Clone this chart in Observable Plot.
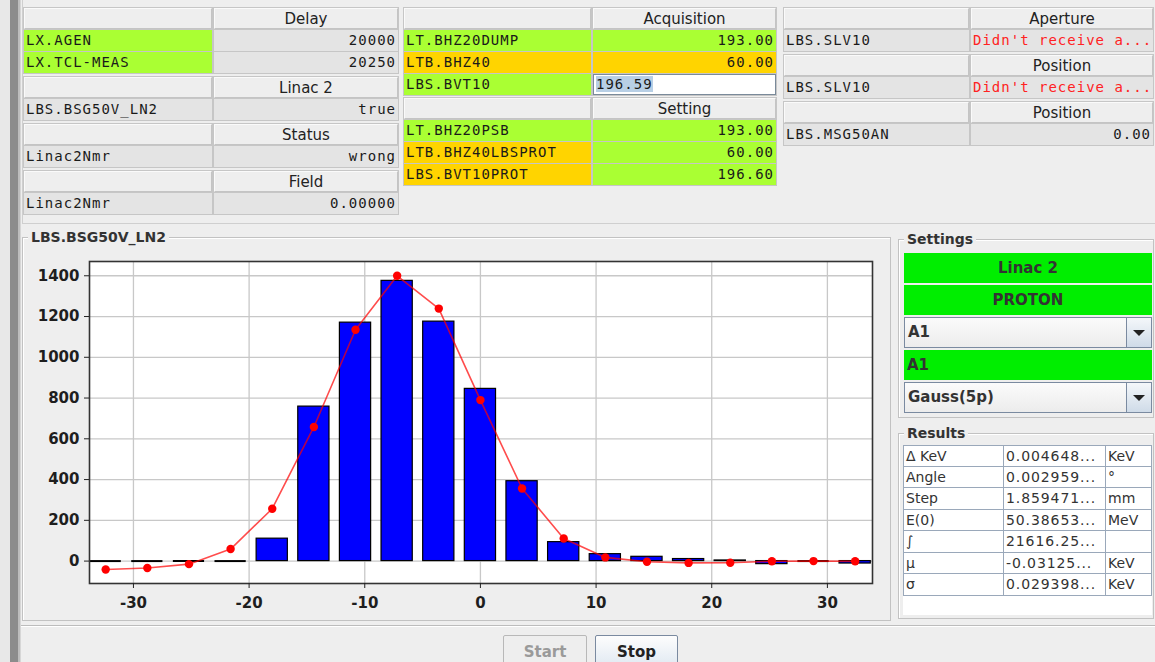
<!DOCTYPE html>
<html>
<head>
<meta charset="utf-8">
<script src="https://cdn.jsdelivr.net/npm/d3@7"></script>
<script src="https://cdn.jsdelivr.net/npm/@observablehq/plot@0.6"></script>
<style>
  html, body { margin: 0; padding: 0; background: #eeeeee; }
  #root { position: relative; width: 1155px; height: 662px; overflow: hidden; background: #eeeeee; font-family: "DejaVu Sans", sans-serif; }
  .abs { position: absolute; box-sizing: border-box; }
  .cell { position: absolute; box-sizing: border-box; height: 21px; line-height: 21px; font-family: "DejaVu Sans Mono", monospace; font-size: 14px; letter-spacing: 1px; color: #1a1a1a; white-space: nowrap; overflow: hidden; padding: 0 2px; }
  .hdr { position: absolute; box-sizing: border-box; height: 21px; line-height: 21px; font-size: 15px; color: #222; text-align: center; background: #eeeeee; border: 1px solid #c4c4c4; border-top-color: #fafafa; border-left-color: #fafafa; }
  .green { background: #aaff33; }
  .orange { background: #ffd400; }
  .gray { background: #e4e4e4; }
  .red { background: #e4e4e4; color: #ff2222; }
  .val { text-align: right; }
  .input { background: #ffffff; border: 1px solid #7a8a9a; text-align: left; line-height: 19px; }
  .input span { background: #b8cfe5; }
  .tbl { position: absolute; background: #c6c6c6; }
  .titled { position: absolute; box-sizing: border-box; border: 1px solid #c2c2c2; box-shadow: 1px 1px 0 #ffffff inset; }
  .ttl { position: absolute; background: #eeeeee; font-weight: bold; font-size: 14px; color: #333; padding: 0 3px; line-height: 16px; }
  .gbox { position: absolute; box-sizing: border-box; background: #00ee00; font-weight: bold; font-size: 15px; color: #333; line-height: 30px; }
  .combo { position: absolute; box-sizing: border-box; border: 1px solid #7a8aa0; background: linear-gradient(#fbfbfb, #ececec); font-weight: bold; font-size: 15px; color: #333; line-height: 29px; padding-left: 3px; }
  .combo .btn { position: absolute; right: 0; top: 0; width: 25px; height: 100%; box-sizing: border-box; border-left: 1px solid #7a8aa0; background: linear-gradient(#f4f7fa, #cfdbe8); }
  .combo .btn::after { content: ""; position: absolute; left: 6px; top: 12px; border-left: 6px solid transparent; border-right: 6px solid transparent; border-top: 6px solid #222; }
  .rtab { position: absolute; background: #ffffff; }
  .rc { position: absolute; box-sizing: border-box; height: 21.5px; line-height: 21px; font-size: 14px; color: #333; border-right: 1px solid #9aa8ba; border-bottom: 1px solid #9aa8ba; padding-left: 2px; white-space: nowrap; overflow: hidden; }
  .rc.v { letter-spacing: 0.9px; }
  .button { position: absolute; box-sizing: border-box; font-weight: bold; font-size: 15px; text-align: center; line-height: 32px; height: 40px; border-radius: 2px; }
</style>
</head>
<body>
<div id="root"></div>
<script>
// ---------------- chart data ----------------
const binCenters = [-32.4, -28.8, -25.2, -21.6, -18.0, -14.4, -10.8, -7.2, -3.6, 0, 3.6, 7.2, 10.8, 14.4, 18.0, 21.6, 25.2, 28.8, 32.4];
const counts     = [0, 0, 0, 0, 110, 758, 1170, 1375, 1175, 845, 392, 93, 34, 21, 10, 3, -15, 0, -12];
const fitValues  = [-41, -34, -15, 59, 257, 658, 1135, 1400, 1239, 790, 356, 111, 18, -3, -9, -8, -1, 0, -1];
const xTicks = [-30, -20, -10, 0, 10, 20, 30];
const yTicks = [0, 200, 400, 600, 800, 1000, 1200, 1400];
const chartTitle = "LBS.BSG50V_LN2";

// ---------------- panel texts ----------------
const leftGroups = [
  { header: "Delay", rows: [["LX.AGEN", "green", "20000", "gray"], ["LX.TCL-MEAS", "green", "20250", "gray"]] },
  { header: "Linac 2", rows: [["LBS.BSG50V_LN2", "gray", "true", "gray"]] },
  { header: "Status", rows: [["Linac2Nmr", "gray", "wrong", "gray"]] },
  { header: "Field", rows: [["Linac2Nmr", "gray", "0.00000", "gray"]] }
];
const middleGroups = [
  { header: "Acquisition", rows: [["LT.BHZ20DUMP", "green", "193.00", "green"], ["LTB.BHZ40", "orange", "60.00", "orange"], ["LBS.BVT10", "green", "196.59", "input"]] },
  { header: "Setting", rows: [["LT.BHZ20PSB", "green", "193.00", "green"], ["LTB.BHZ40LBSPROT", "orange", "60.00", "green"], ["LBS.BVT10PROT", "orange", "196.60", "green"]] }
];
const rightGroups = [
  { header: "Aperture", rows: [["LBS.SLV10", "gray", "Didn't receive a...", "red"]] },
  { header: "Position", rows: [["LBS.SLV10", "gray", "Didn't receive a...", "red"]] },
  { header: "Position", rows: [["LBS.MSG50AN", "gray", "0.00", "gray"]] }
];
const settingsItems = [["Linac 2", "gbox", "center"], ["PROTON", "gbox", "center"], ["A1", "combo", "left"], ["A1", "gbox", "left"], ["Gauss(5p)", "combo", "left"]];
const resultLabels = ["Δ KeV", "Angle", "Step", "E(0)", "∫", "μ", "σ"];
const resultValues = ["0.004648...", "0.002959...", "1.859471...", "50.38653...", "21616.25...", "-0.03125...", "0.029398..."];
const resultUnits  = ["KeV", "°", "mm", "MeV", "", "KeV", "KeV"];

// ---------------- layout helpers ----------------
const root = document.getElementById("root");
function el(cls, style, html) {
  const d = document.createElement("div");
  d.className = cls;
  Object.assign(d.style, style);
  if (html !== undefined) d.innerHTML = html;
  root.appendChild(d);
  return d;
}
// left stripe
el("abs", { left: "0px", top: "0px", width: "10px", height: "662px", background: "#e8e8e8" });
el("abs", { left: "10px", top: "0px", width: "8px", height: "662px", background: "#8c8c8c" });
el("abs", { left: "18px", top: "0px", width: "2px", height: "662px", background: "#bdbdbd" });
el("abs", { left: "20px", top: "0px", width: "1px", height: "662px", background: "#d6d6d6" });
// top panel border
el("abs", { left: "22px", top: "0px", width: "1133px", height: "224px", borderLeft: "1px solid #cfcfcf", borderBottom: "1px solid #cfcfcf" });

function drawColumn(groups, tops, nameX, nameW, valX, valW) {
  groups.forEach((g, gi) => {
    let y = tops[gi];
    const n = g.rows.length;
    el("tbl", { left: (nameX - 1) + "px", top: (y - 1) + "px", width: (valX + valW - nameX + 2) + "px", height: (22 * (n + 1) + 1) + "px" });
    el("hdr", { left: nameX + "px", top: y + "px", width: nameW + "px" }, "");
    el("hdr", { left: valX + "px", top: y + "px", width: valW + "px" }, g.header);
    g.rows.forEach((r, ri) => {
      const ry = y + 22 * (ri + 1);
      el("cell " + r[1], { left: nameX + "px", top: ry + "px", width: nameW + "px" }, r[0]);
      if (r[3] === "input") {
        el("cell input", { left: valX + "px", top: ry + "px", width: valW + "px" }, "<span>" + r[2] + "</span>");
      } else {
        el("cell val " + r[3], { left: valX + "px", top: ry + "px", width: valW + "px" }, r[2]);
      }
    });
  });
}
drawColumn(leftGroups, [8, 77, 124, 171], 24, 188, 214, 184);
drawColumn(middleGroups, [8, 98], 404, 187, 593, 183);
drawColumn(rightGroups, [8, 55, 102], 784, 185, 971, 182);

// chart titled border
el("titled", { left: "22px", top: "237px", width: "869px", height: "384px" });
el("ttl", { left: "28px", top: "229px" }, chartTitle);

// settings
el("titled", { left: "898px", top: "239px", width: "256px", height: "179px" });
el("ttl", { left: "904px", top: "231px" }, "Settings");
const setTops = [253, 285, 317, 350, 382];
settingsItems.forEach((s, i) => {
  const h = (s[1] === "combo") ? 31 : 30;
  const d = el(s[1], { left: "904px", top: setTops[i] + "px", width: "248px", height: h + "px", textAlign: s[2], paddingLeft: s[2] === "left" ? "3px" : "0" }, s[0]);
  if (s[1] === "combo") { const b = document.createElement("div"); b.className = "btn"; d.appendChild(b); }
});

// results
el("titled", { left: "898px", top: "433px", width: "256px", height: "186px" });
el("ttl", { left: "904px", top: "425px" }, "Results");
el("rtab", { left: "903px", top: "445px", width: "249px", height: "170px" });
resultLabels.forEach((lab, i) => {
  const y = 445 + 21.5 * i;
  el("rc", { left: "903px", top: y + "px", width: "101px", borderLeft: "1px solid #9aa8ba", borderTop: i === 0 ? "1px solid #9aa8ba" : "none" }, lab);
  el("rc v", { left: "1004px", top: y + "px", width: "102px", borderTop: i === 0 ? "1px solid #9aa8ba" : "none" }, resultValues[i]);
  el("rc", { left: "1106px", top: y + "px", width: "46px", borderTop: i === 0 ? "1px solid #9aa8ba" : "none" }, resultUnits[i]);
});

// bottom separator & buttons
el("abs", { left: "21px", top: "625px", width: "1134px", height: "2px", borderTop: "1px solid #bcbcbc", borderBottom: "1px solid #ffffff" });
el("button", { left: "503px", top: "635px", width: "84px", border: "1px solid #b8b8b8", color: "#9a9a9a", background: "#eeeeee" }, "Start");
el("button", { left: "595px", top: "635px", width: "83px", border: "1px solid #7a8aa0", color: "#222", background: "linear-gradient(#fdfdfd, #d9e4ef)" }, "Stop");

// ---------------- the chart ----------------
const halfBar = 1.35;
const bins = binCenters.map((x, i) => ({ x, count: counts[i], fit: fitValues[i] }));
const xDomain = [-33.8, 33.9];
const yDomain = [-110, 1470];

const chart = Plot.plot({
  width: 862,
  height: 373,
  marginLeft: 65,
  marginRight: 14,
  marginTop: 16,
  marginBottom: 35,
  style: { background: "transparent", fontFamily: "DejaVu Sans, sans-serif", fontSize: "15px", fontWeight: "bold", color: "#1e1e1e", overflow: "visible" },
  x: { domain: xDomain, label: null },
  y: { domain: yDomain, label: null },
  marks: [
    Plot.frame({ fill: "white", stroke: "none" }),
    Plot.gridX(xTicks, { stroke: "#c8c8c8", strokeOpacity: 1, strokeWidth: 1.3 }),
    Plot.gridY(yTicks, { stroke: "#c8c8c8", strokeOpacity: 1, strokeWidth: 1.3 }),
    Plot.rect(bins.filter(d => d.count !== 0), {
      x1: d => d.x - halfBar, x2: d => d.x + halfBar, y1: 0, y2: "count",
      fill: "#0000ff", stroke: "#000", strokeWidth: 1.2, clip: true
    }),
    Plot.ruleY(bins.filter(d => d.count === 0), {
      y: "count", x1: d => d.x - halfBar, x2: d => d.x + halfBar,
      stroke: "#000", strokeWidth: 2, clip: true
    }),
    Plot.line(bins, { x: "x", y: "fit", stroke: "#ff0000", strokeOpacity: 0.7, strokeWidth: 1.6, clip: true }),
    Plot.dot(bins, { x: "x", y: "fit", r: 4.2, fill: "#ff0000", stroke: "none", clip: true }),
    Plot.frame({ stroke: "#333", strokeWidth: 1.6 }),
    Plot.axisX(xTicks, { tickSize: 5, tickPadding: 9, tickFormat: d => String(d), stroke: "#222" }),
    Plot.axisY(yTicks, { tickSize: 5, tickPadding: 5, tickFormat: d => String(d), stroke: "#222" })
  ]
});
const holder = el("abs", { left: "24px", top: "245px", width: "862px", height: "373px" });
holder.appendChild(chart);
</script>
</body>
</html>
